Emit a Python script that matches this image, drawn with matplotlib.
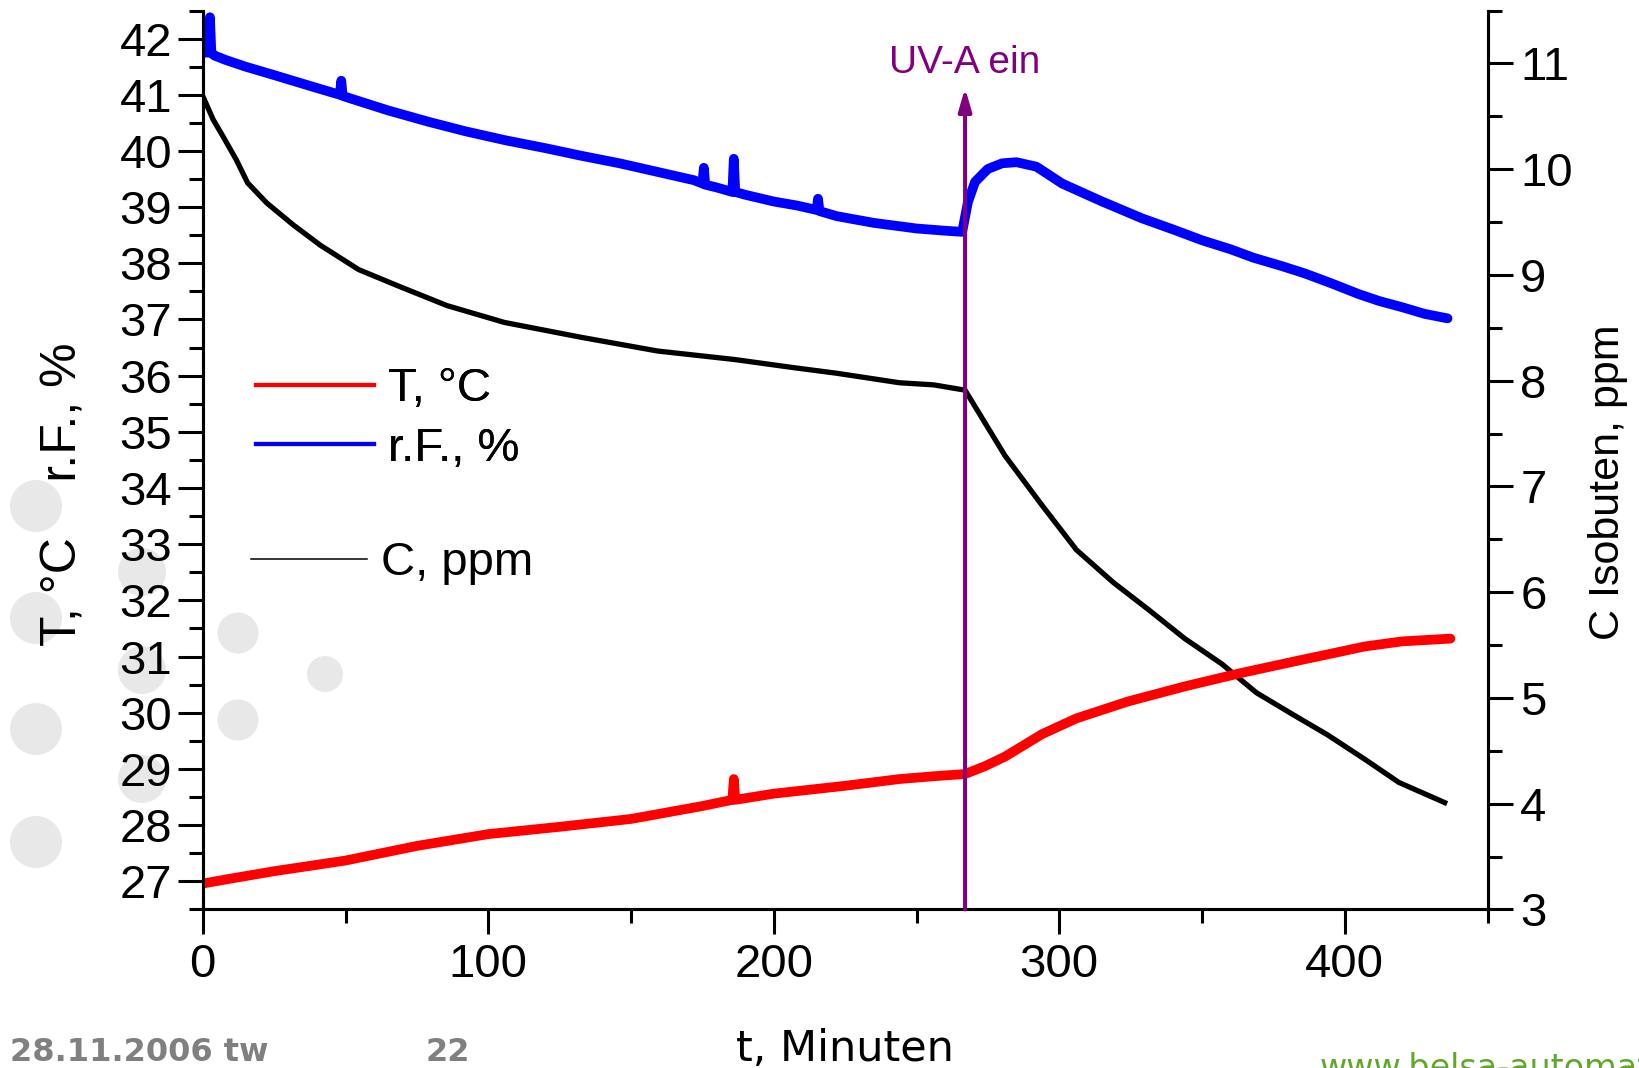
#!/usr/bin/env python3
"""
Isobutene degradation run: temperature, relative humidity and isobutene
concentration over time, with the UV-A lamp switched on at t = 267 min.

Output:
    out.png
"""

import matplotlib
matplotlib.use("Agg")
import matplotlib.pyplot as plt
from matplotlib.lines import Line2D
from matplotlib.patches import Circle
from matplotlib.ticker import MultipleLocator

# ============================================================================
# DATA
# ============================================================================

# relative humidity r.F., % (left axis)
t_rf = [0, 1, 2, 2.5, 3, 4, 8, 15, 25, 40, 48, 48.5, 49, 52, 65, 79, 92,
        106, 120, 132, 146, 159, 172, 175, 175.5, 176, 180, 185.5, 186,
        186.5, 190, 200, 208, 215, 215.5, 216, 222, 235, 250, 260, 266,
        268, 270.5, 275, 280, 285, 292, 301, 315, 329, 340, 350, 360, 368,
        378, 386, 395, 405, 412, 420, 428, 436]
rf = [41.8, 41.75, 41.75, 42.38, 41.75, 41.7, 41.62, 41.5, 41.35, 41.12,
      41.0, 41.25, 40.98, 40.93, 40.72, 40.52, 40.35, 40.19, 40.05, 39.92,
      39.78, 39.63, 39.48, 39.42, 39.7, 39.4, 39.35, 39.27, 39.86, 39.27,
      39.22, 39.1, 39.03, 38.95, 39.15, 38.93, 38.84, 38.72, 38.62, 38.58,
      38.56, 39.09, 39.45, 39.68, 39.78, 39.8, 39.72, 39.42, 39.1, 38.8,
      38.6, 38.41, 38.25, 38.1, 37.95, 37.82, 37.65, 37.45, 37.33, 37.22,
      37.1, 37.02]

# temperature T, degC (left axis)
t_temp = [0, 10, 25, 50, 75, 100, 125, 150, 175, 185.5, 186, 186.5, 200,
          225, 244, 256, 267, 274, 281, 294, 306, 324, 344, 363, 382, 395,
          407, 420, 437]
temp = [26.96, 27.05, 27.18, 27.37, 27.63, 27.84, 27.97, 28.11, 28.34,
        28.45, 28.82, 28.45, 28.56, 28.7, 28.82, 28.87, 28.91, 29.05, 29.22,
        29.62, 29.9, 30.2, 30.47, 30.7, 30.91, 31.05, 31.18, 31.27, 31.32]

# isobutene concentration C, ppm (right axis)
t_conc = [0, 3.6, 7.7, 11.7, 15.7, 22.4, 31.8, 41.2, 54.6, 68, 85.5, 105.7,
          132.5, 159.3, 186.2, 207.7, 222, 244, 256, 267, 274, 281, 294,
          306, 319, 331, 344, 357, 369, 382, 394, 407, 419, 435]
conc = [10.69, 10.47, 10.28, 10.09, 9.87, 9.68, 9.47, 9.28, 9.05, 8.9, 8.71,
        8.55, 8.41, 8.28, 8.2, 8.12, 8.07, 7.98, 7.96, 7.91, 7.6, 7.29, 6.82,
        6.4, 6.09, 5.84, 5.56, 5.32, 5.05, 4.84, 4.65, 4.42, 4.2, 4.01]

UV_ON = 267          # minute the UV-A lamp was switched on
UV_ARROW_TOP = 41.12  # arrow tip, left-axis units
UV_LABEL_Y = 41.39

# ============================================================================
# STYLE
# ============================================================================

W, H, DPI = 1639, 1068, 100
ARIAL = "Liberation Sans"
TICK_FS = 34
PURPLE = "#800080"
LW_AX = 2.2

# slide background dots (figure pixels from top-left: x, y, radius)
DOTS = [(36, 506, 26), (36, 618, 26), (36, 729, 26), (36, 842, 26),
        (142, 572, 24), (142, 670, 24), (142, 779, 24),
        (238, 633, 20.5), (238, 720, 20.5), (325, 674, 18)]


def main():
    fig = plt.figure(figsize=(W / DPI, H / DPI), dpi=DPI, facecolor="white")

    for x, y, r in DOTS:
        fig.patches.append(Circle((x / DPI, (H - y) / DPI), r / DPI,
                                  transform=fig.dpi_scale_trans,
                                  facecolor="#e8e8e8", edgecolor="none",
                                  zorder=-5))

    ax = fig.add_axes([202.8 / W, 1 - 909.4 / H, 1284.7 / W, 898.9 / H])
    ax2 = ax.twinx()
    ax.set_zorder(2)
    ax2.set_zorder(1)
    ax.patch.set_visible(False)
    ax2.patch.set_visible(False)

    ax2.plot(t_conc, conc, color="black", lw=3.8, solid_joinstyle="round")
    ax.plot(t_rf, rf, color="#0000ff", lw=7, solid_joinstyle="round",
            solid_capstyle="round")
    ax.plot(t_temp, temp, color="#ff0000", lw=7, solid_joinstyle="round",
            solid_capstyle="round")

    # UV-A switch-on marker
    ax.annotate("", xy=(UV_ON, UV_ARROW_TOP), xytext=(UV_ON, 26.5),
                arrowprops=dict(arrowstyle="-|>,head_length=0.45,head_width=0.13",
                                color=PURPLE, lw=2.9, mutation_scale=30,
                                shrinkA=0, shrinkB=0),
                zorder=10)
    ax.text(UV_ON, UV_LABEL_Y, "UV-A ein", color=PURPLE, fontsize=28,
            family=ARIAL, ha="center", va="baseline")

    ax.set_xlim(0, 450)
    ax.set_ylim(26.5, 42.5)
    ax2.set_ylim(3, 11.5)

    ax.xaxis.set_major_locator(MultipleLocator(100))
    ax.xaxis.set_minor_locator(MultipleLocator(50))
    ax.yaxis.set_major_locator(MultipleLocator(1))
    ax.yaxis.set_minor_locator(MultipleLocator(0.5))
    ax2.yaxis.set_major_locator(MultipleLocator(1))
    ax2.yaxis.set_minor_locator(MultipleLocator(0.5))

    for a in (ax, ax2):
        a.spines["top"].set_visible(False)
        for s in a.spines.values():
            s.set_linewidth(LW_AX)
        a.tick_params(which="major", direction="out", length=18, width=LW_AX,
                      labelsize=TICK_FS)
        a.tick_params(which="minor", direction="out", length=10, width=LW_AX)
        for lab in a.get_xticklabels() + a.get_yticklabels():
            lab.set_family(ARIAL)
    ax.tick_params(axis="y", which="major", pad=4)
    ax.tick_params(axis="x", which="major", pad=6)
    ax2.tick_params(axis="y", which="major", pad=5.5)

    ax.set_ylabel("T, °C    r.F., %", fontsize=36, family=ARIAL,
                  va="center")
    ax.yaxis.set_label_coords(-0.1088, 0.462)
    ax2.set_ylabel("C Isobuten, ppm", fontsize=31, family=ARIAL,
                   va="center")
    ax2.yaxis.set_label_coords(1.0936, 0.4755)
    ax.set_xlabel("t, Minuten", fontsize=31, family="DejaVu Sans",
                  va="baseline")
    ax.xaxis.set_label_coords(0.5, -0.1687)

    # legends: T and r.F. on the left axis, C on the right axis
    leg1 = ax.legend(
        handles=[Line2D([], [], color="#ff0000", lw=3.0),
                 Line2D([], [], color="#0000ff", lw=3.0)],
        labels=["T, °C", "r.F., %"],
        loc="upper left", bbox_to_anchor=(0.0414, 0.603), frameon=False,
        borderpad=0, borderaxespad=0, handlelength=2.5, handletextpad=0.3,
        labelspacing=0.33, prop=dict(family=ARIAL, size=TICK_FS))
    ax.add_artist(leg1)
    ax2.legend(
        handles=[Line2D([], [], color="black", lw=1.1)],
        labels=["C, ppm"],
        loc="upper left", bbox_to_anchor=(0.0374, 0.4094), frameon=False,
        borderpad=0, borderaxespad=0, handlelength=2.45, handletextpad=0.3,
        prop=dict(family=ARIAL, size=TICK_FS))

    # slide footer
    fig.text(10.5 / W, 7 / H, "28.11.2006 tw", color="#808080", fontsize=23,
             fontweight="bold", family="DejaVu Sans", va="baseline")
    fig.text(425 / W, 7 / H, "22", color="#808080", fontsize=23,
             fontweight="bold", family="DejaVu Sans", va="baseline")
    fig.text(1320 / W, -10 / H, "www.belsa-automation.de", color="#5fa82a",
             fontsize=24, family="DejaVu Sans", va="baseline")

    fig.savefig("out.png", dpi=DPI, facecolor="white")


if __name__ == "__main__":
    main()
